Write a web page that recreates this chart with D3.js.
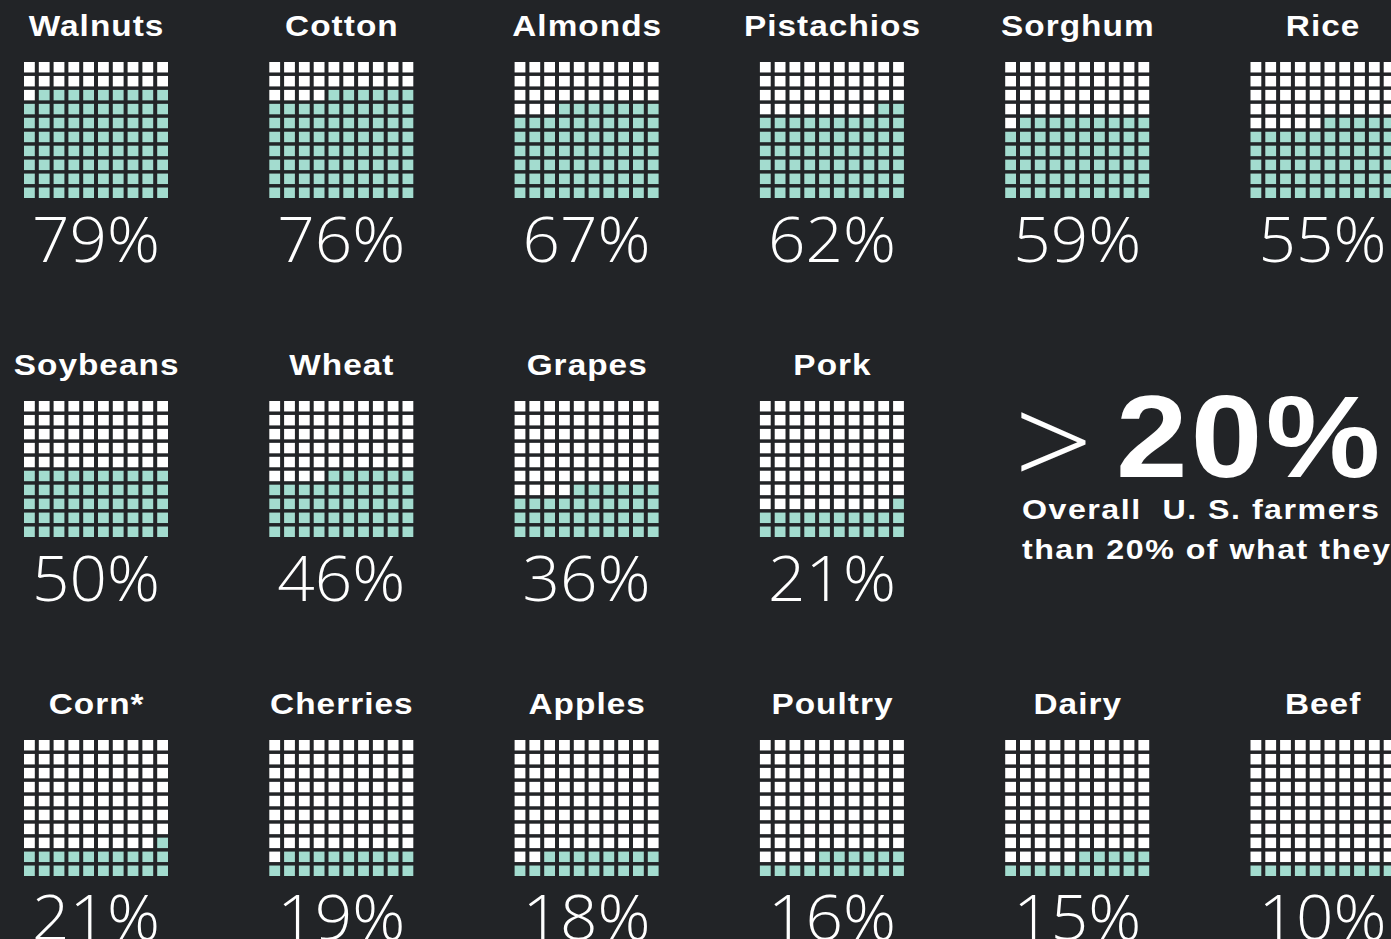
<!DOCTYPE html>
<html>
<head>
<meta charset="utf-8">
<script src="https://cdn.jsdelivr.net/npm/d3@7"></script>
<style>
  html, body { margin: 0; padding: 0; background: #222427; overflow: hidden; }
  svg { display: block; }
</style>
</head>
<body>
<svg id="chart" width="1391" height="939"></svg>
<script>
// Share of the retail price that goes back to U.S. farmers, by product
const crops = ["Walnuts", "Cotton", "Almonds", "Pistachios", "Sorghum", "Rice",
               "Soybeans", "Wheat", "Grapes", "Pork",
               "Corn*", "Cherries", "Apples", "Poultry", "Dairy", "Beef"];
const shares = [79, 76, 67, 62, 59, 55,
                50, 46, 36, 21,
                21, 19, 18, 16, 15, 10];
// how many waffles sit in each row of the panel
const rowSizes = [6, 4, 6];

// headline callout
const calloutSymbol = ">";
const calloutValue = "20%";
const calloutLines = ["Overall  U. S. farmers", "than 20% of what they"];

const W = 1391, H = 939;
const BG = "#222427", EMPTY = "#ffffff", FILLED = "#a3dccf";
const BOLD = "'Liberation Sans', Arial, Helvetica, sans-serif";
const LIGHT = "'Open Sans', 'Liberation Sans', sans-serif";
const svg = d3.select("#chart");
svg.append("rect").attr("width", W).attr("height", H).attr("fill", BG);

// layout of the small multiples
const colStep = 245.3, firstCx = 96;
const rowStep = 339, firstGridTop = 62;
const gridW = 144, gridH = 136;

// assign each product to a slot (row, column)
const items = [];
let k = 0;
rowSizes.forEach((n, r) => {
  for (let c = 0; c < n; c++, k++) {
    items.push({ name: crops[k], value: shares[k], row: r, col: c });
  }
});

const cellX = d3.scaleBand().domain(d3.range(10)).range([0, gridW]).paddingInner(0.27);
const cellY = d3.scaleBand().domain(d3.range(10)).range([0, gridH]).paddingInner(0.25);

const g = svg.selectAll("g.waffle").data(items).join("g")
  .attr("class", "waffle")
  .attr("transform", d => `translate(${firstCx + d.col * colStep},${firstGridTop + d.row * rowStep})`);

// 10x10 grid: cells fill from the bottom row up, each row from right to left
g.append("g")
  .attr("transform", `translate(${-gridW / 2},0)`)
  .selectAll("rect")
  .data(d => d3.range(100).map(i => ({ i, on: i < d.value })))
  .join("rect")
  .attr("x", c => cellX(9 - (c.i % 10)))
  .attr("y", c => cellY(9 - Math.floor(c.i / 10)))
  .attr("width", cellX.bandwidth())
  .attr("height", cellY.bandwidth())
  .attr("fill", c => c.on ? FILLED : EMPTY);

// product name above each grid (wide bold face)
g.append("text")
  .attr("transform", "translate(0.6,-26) scale(1.15,1)")
  .attr("text-anchor", "middle")
  .attr("font-family", BOLD)
  .attr("font-weight", 700)
  .attr("font-size", 29)
  .attr("letter-spacing", 0.9)
  .attr("fill", "#ffffff")
  .text(d => d.name);

// percentage below each grid
g.append("text")
  .attr("transform", "translate(0,200) scale(1.06,1)")
  .attr("text-anchor", "middle")
  .attr("font-family", LIGHT)
  .attr("font-weight", 300)
  .attr("font-size", 62)
  .attr("fill", "#ffffff")
  .text(d => d.value + "%");

// callout in the empty slots of the middle row
const callout = svg.append("g").attr("transform", "translate(1020,0)");
callout.append("text")
  .attr("transform", "translate(-6,488) scale(1.08,1)")
  .attr("font-family", LIGHT)
  .attr("font-weight", 300)
  .attr("font-size", 128)
  .attr("fill", "#ffffff")
  .text(calloutSymbol);
callout.append("text")
  .attr("transform", "translate(96,477) scale(1.1,1)")
  .attr("font-family", BOLD)
  .attr("font-weight", 700)
  .attr("font-size", 117)
  .attr("letter-spacing", 3)
  .attr("fill", "#ffffff")
  .text(calloutValue);
callout.selectAll("text.line").data(calloutLines).join("text")
  .attr("class", "line")
  .attr("transform", (d, i) => `translate(2,${519 + i * 40}) scale(1.15,1)`)
  .attr("font-family", BOLD)
  .attr("font-weight", 700)
  .attr("font-size", 28)
  .attr("letter-spacing", 1.3)
  .attr("fill", "#ffffff")
  .attr("xml:space", "preserve")
  .style("white-space", "pre")
  .text(d => d);
</script>
</body>
</html>
